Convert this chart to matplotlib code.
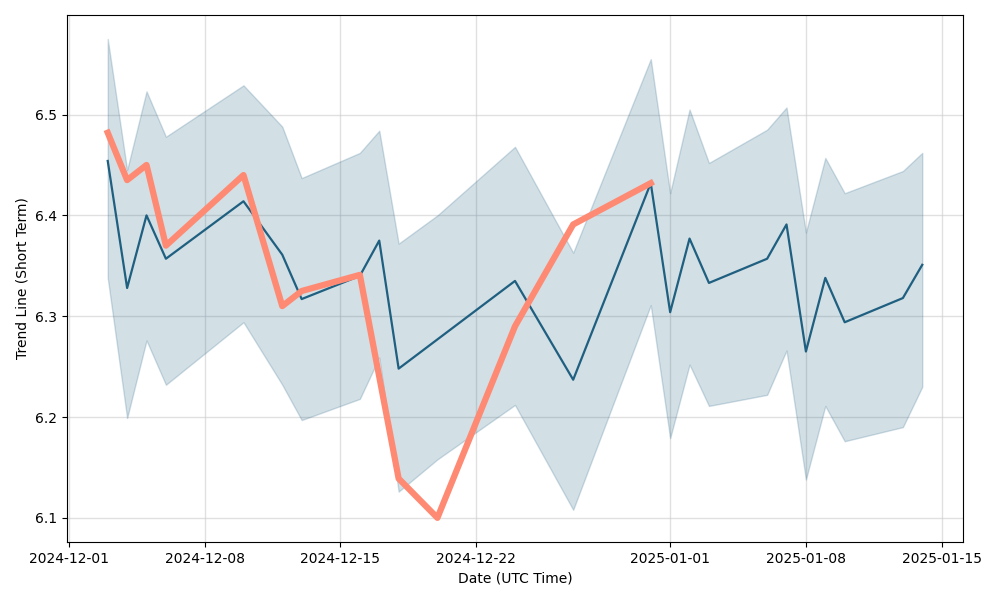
import matplotlib
matplotlib.use("Agg")
import matplotlib.pyplot as plt
import pandas as pd

dates = ["2024-12-03", "2024-12-04", "2024-12-05", "2024-12-06", "2024-12-10",
         "2024-12-12", "2024-12-13", "2024-12-16", "2024-12-17", "2024-12-18",
         "2024-12-20", "2024-12-24", "2024-12-27", "2024-12-31", "2025-01-01",
         "2025-01-02", "2025-01-03", "2025-01-06", "2025-01-07", "2025-01-08",
         "2025-01-09", "2025-01-10", "2025-01-13", "2025-01-14"]
mean_vals = [6.454, 6.328, 6.400, 6.357, 6.414, 6.361, 6.317, 6.340, 6.375, 6.248,
             6.277, 6.335, 6.237, 6.432, 6.304, 6.377, 6.333, 6.357, 6.391, 6.265,
             6.338, 6.294, 6.318, 6.351]
upper_vals = [6.575, 6.445, 6.523, 6.478, 6.529, 6.488, 6.437, 6.462, 6.484, 6.372,
              6.400, 6.468, 6.363, 6.555, 6.422, 6.505, 6.452, 6.485, 6.507, 6.383,
              6.457, 6.422, 6.444, 6.462]
lower_vals = [6.338, 6.199, 6.276, 6.232, 6.294, 6.232, 6.197, 6.218, 6.259, 6.126,
              6.158, 6.212, 6.108, 6.311, 6.179, 6.252, 6.211, 6.222, 6.266, 6.138,
              6.211, 6.176, 6.190, 6.230]

trend_dates = ["2024-12-03", "2024-12-04", "2024-12-05", "2024-12-06", "2024-12-10",
               "2024-12-12", "2024-12-13", "2024-12-16", "2024-12-18", "2024-12-20",
               "2024-12-24", "2024-12-27", "2024-12-31"]
trend_vals = [6.482, 6.435, 6.450, 6.370, 6.440, 6.310, 6.325, 6.341, 6.139, 6.100,
              6.290, 6.391, 6.432]

x = pd.to_datetime(dates)
xt = pd.to_datetime(trend_dates)

fig, ax = plt.subplots(figsize=(10, 6), dpi=100)
fig.subplots_adjust(left=0.067, right=0.963, top=0.975, bottom=0.097)

line_color = "#1f5f80"
ax.fill_between(x, lower_vals, upper_vals, color=line_color, alpha=0.2, linewidth=1)
ax.plot(x, mean_vals, color=line_color, linewidth=1.6)
ax.plot(xt, trend_vals, color="#ff8a73", linewidth=4.5)

ax.grid(True, color="#cccccc", alpha=0.6, linewidth=1)
ax.set_axisbelow(True)
ax.set_xlabel("Date (UTC Time)")
ax.set_ylabel("Trend Line (Short Term)")

fig.savefig("out.png", dpi=100)
